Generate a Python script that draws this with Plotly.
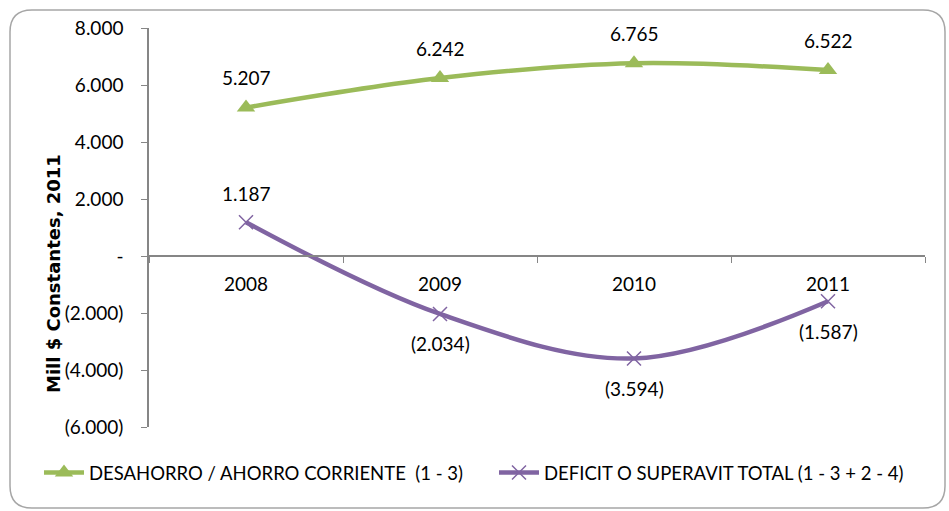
import plotly.graph_objects as go

categories = ["2008", "2009", "2010", "2011"]
ahorro = [5207, 6242, 6765, 6522]
deficit = [1187, -2034, -3594, -1587]
ytick_vals = [-6000, -4000, -2000, 0, 2000, 4000, 6000, 8000]
ytick_text = ["(6.000)", "(4.000)", "(2.000)", "-", "2.000", "4.000", "6.000", "8.000"]
name_a = "DESAHORRO / AHORRO CORRIENTE  (1 - 3)"
name_d = "DEFICIT O SUPERAVIT TOTAL (1 - 3 + 2 - 4)"
y_title = "Mill $ Constantes, 2011"

GREEN = "#9BBB59"
PURPLE = "#8064A2"
FONT = "Lato"
FS = 19


def fmt(v):
    s = f"{abs(v):,}".replace(",", ".")
    return f"({s})" if v < 0 else s


fig = go.Figure()
fig.add_trace(go.Scatter(
    x=categories, y=ahorro, name=name_a, mode="lines+markers",
    line=dict(color=GREEN, width=4.5, shape="spline", smoothing=1),
    marker=dict(symbol="triangle-up", size=16, color=GREEN),
))
fig.add_trace(go.Scatter(
    x=categories, y=deficit, name=name_d, mode="lines+markers",
    line=dict(color=PURPLE, width=4.5, shape="spline", smoothing=1),
    marker=dict(symbol="x-thin", size=14, line=dict(color=PURPLE, width=1.5)),
))

ann = []
for i, v in enumerate(ahorro):
    ann.append(dict(x=i, y=v, text=fmt(v), showarrow=False, yshift=30,
                    font=dict(size=FS, color="#000", family=FONT)))
for i, v in enumerate(deficit):
    ann.append(dict(x=i, y=v, text=fmt(v), showarrow=False,
                    yshift=29 if i == 0 else -30,
                    font=dict(size=FS, color="#000", family=FONT)))

# y-axis title as annotation
ann.append(dict(xref="paper", yref="paper", x=(53 - 149) / 776, y=(427 - 274) / 399,
                xanchor="center", yanchor="middle",
                text=f"<b>{y_title}</b>", textangle=-90, showarrow=False,
                font=dict(size=18, color="#000", family="DejaVu Sans")))

# rounded border
L, R, T, B, r = 10, 945, 10, 508, 22
def px(x):
    return (x - 149) / 776
def py(y):
    return (427 - y) / 399
path = (f"M {px(L + r)} {py(T)} L {px(R - r)} {py(T)} Q {px(R)} {py(T)} {px(R)} {py(T + r)} "
        f"L {px(R)} {py(B - r)} Q {px(R)} {py(B)} {px(R - r)} {py(B)} "
        f"L {px(L + r)} {py(B)} Q {px(L)} {py(B)} {px(L)} {py(B - r)} "
        f"L {px(L)} {py(T + r)} Q {px(L)} {py(T)} {px(L + r)} {py(T)} Z")

fig.update_layout(
    width=949, height=511,
    margin=dict(l=149, r=24, t=28, b=84),
    plot_bgcolor="white", paper_bgcolor="white",
    font=dict(family=FONT, size=FS, color="#000"),
    showlegend=True,
    legend=dict(orientation="h", x=(40 - 149) / 776, xanchor="left",
                y=(427 - 473) / 399, yanchor="middle",
                font=dict(size=18.5, family=FONT), itemwidth=40,
                entrywidth=400, entrywidthmode="pixels",
                tracegroupgap=0, bgcolor="rgba(0,0,0,0)"),
    annotations=ann,
    shapes=[dict(type="path", xref="paper", yref="paper", path=path,
                 line=dict(color="#A6A6A6", width=1.5), layer="below")],
    xaxis=dict(type="category", anchor="free", position=6000 / 14000,
               showline=True, linecolor="#868686", linewidth=1.5,
               ticks="outside", tickson="boundaries", ticklen=6, tickcolor="#868686",
               showgrid=False, zeroline=False, ticklabelstandoff=11,
               tickfont=dict(size=FS, family=FONT), range=[-0.5, 3.5]),
    yaxis=dict(range=[-6000, 8000], tickvals=ytick_vals, ticktext=ytick_text,
               showline=True, linecolor="#868686", linewidth=1.5,
               ticks="outside", ticklen=6, tickcolor="#868686",
               showgrid=False, zeroline=False, ticklabelstandoff=14,
               tickfont=dict(size=FS, family=FONT)),
)

fig.write_html("out.html", config={"displayModeBar": False},
               post_script="document.body.style.margin='0';document.body.style.overflow='hidden';")
